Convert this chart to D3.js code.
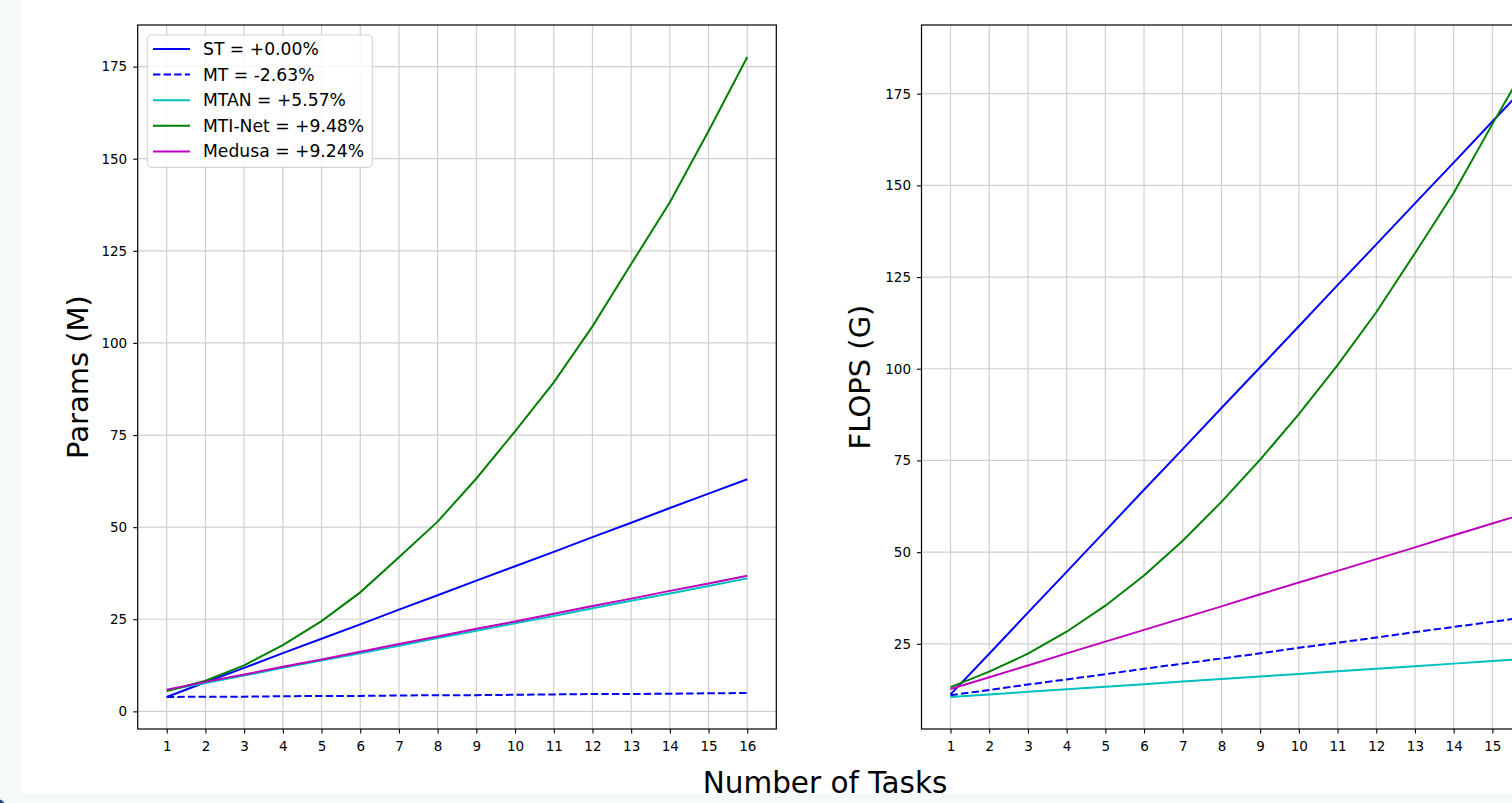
<!DOCTYPE html>
<html>
<head>
<meta charset="utf-8">
<script src="https://cdn.jsdelivr.net/npm/d3@7"></script>
<style>
  html, body { margin: 0; padding: 0; overflow: hidden; background: #f6f9f9; }
  svg { display: block; font-family: "DejaVu Sans", sans-serif; }
</style>
</head>
<body>
<svg id="chart" width="1512" height="803"></svg>
<script>
// ---------------- data ----------------
const tasks = [1, 2, 3, 4, 5, 6, 7, 8, 9, 10, 11, 12, 13, 14, 15, 16];

const paramsST     = [3.9, 7.9, 11.8, 15.8, 19.7, 23.6, 27.6, 31.5, 35.5, 39.4, 43.3, 47.3, 51.2, 55.2, 59.1, 63.0];
const paramsMT     = [3.9, 4.0, 4.0, 4.1, 4.2, 4.2, 4.3, 4.4, 4.4, 4.5, 4.6, 4.7, 4.7, 4.8, 4.9, 5.0];
const paramsMTAN   = [5.7, 7.7, 9.7, 11.8, 13.8, 15.8, 17.8, 19.9, 21.9, 23.9, 25.9, 28.0, 30.0, 32.0, 34.0, 36.1];
const paramsMTINet = [5.5, 8.3, 12.5, 18.0, 24.5, 32.3, 41.8, 51.5, 63.2, 76.0, 89.3, 104.5, 121.4, 138.2, 157.5, 177.6];
const paramsMedusa = [5.9, 8.0, 10.0, 12.1, 14.1, 16.2, 18.3, 20.3, 22.4, 24.4, 26.5, 28.6, 30.6, 32.7, 34.7, 36.8];

const flopsST      = [11.2, 22.3, 33.5, 44.6, 55.8, 67.0, 78.1, 89.3, 100.4, 111.6, 122.8, 133.9, 145.1, 156.2, 167.4, 178.6];
const flopsMT      = [11.0, 12.4, 13.9, 15.3, 16.7, 18.2, 19.6, 21.0, 22.4, 23.9, 25.3, 26.7, 28.2, 29.6, 31.0, 32.5];
const flopsMTAN    = [10.5, 11.2, 11.9, 12.6, 13.3, 14.0, 14.7, 15.4, 16.1, 16.8, 17.5, 18.2, 18.9, 19.6, 20.3, 21.0];
const flopsMTINet  = [13.2, 17.4, 22.3, 28.3, 35.4, 43.6, 53.1, 63.7, 75.2, 87.6, 101.0, 115.4, 131.5, 147.9, 166.7, 185.0];
const flopsMedusa  = [12.7, 15.9, 19.1, 22.4, 25.6, 28.8, 32.0, 35.2, 38.5, 41.7, 44.9, 48.1, 51.3, 54.6, 57.8, 61.0];

const seriesNames  = ["ST = +0.00%", "MT = -2.63%", "MTAN = +5.57%", "MTI-Net = +9.48%", "Medusa = +9.24%"];
const seriesColors = ["#0000ff", "#0000ff", "#00bfbf", "#008000", "#bf00bf"];
const seriesDashed = [false, true, false, false, false];

const yTickValues = [0, 25, 50, 75, 100, 125, 150, 175];
const yLabels = ["Params (M)", "FLOPS (G)"];
const xLabel = "Number of Tasks";

// ---------------- layout ----------------
const W = 1512;
const svg = d3.select("#chart");
svg.append("rect").attr("x", 21).attr("y", 0).attr("width", 1491).attr("height", 793).attr("fill", "#ffffff");
svg.append("circle").attr("cx", -3).attr("cy", 808).attr("r", 9).attr("fill", "#23457a");

const plotTop = 25, plotBottom = 729;
const panels = [
  { left: 137.7, right: 776.3, data: [paramsST, paramsMT, paramsMTAN, paramsMTINet, paramsMedusa], ylabel: yLabels[0], labelX: 88, legend: true },
  { left: 921.5, right: 1560.1, data: [flopsST, flopsMT, flopsMTAN, flopsMTINet, flopsMedusa], ylabel: yLabels[1], labelX: 870, legend: false }
];

panels.forEach(p => {
  const g = svg.append("g");
  const x = d3.scaleLinear().domain([0.25, 16.75]).range([p.left, p.right]);
  const all = p.data.flat();
  const mn = d3.min(all), mx = d3.max(all), pad = (mx - mn) * 0.05;
  const y = d3.scaleLinear().domain([mn - pad, mx + pad]).range([plotBottom, plotTop]);
  const yt = yTickValues.filter(v => v >= y.domain()[0] && v <= y.domain()[1]);

  const cid = "clip" + Math.round(p.left);
  svg.append("defs").append("clipPath").attr("id", cid)
    .append("rect").attr("x", p.left).attr("y", plotTop).attr("width", p.right - p.left).attr("height", plotBottom - plotTop);

  const grid = g.append("g").attr("clip-path", `url(#${cid})`);
  grid.selectAll(".gx").data(tasks).enter().append("line")
    .attr("x1", d => x(d)).attr("x2", d => x(d)).attr("y1", plotTop).attr("y2", plotBottom)
    .attr("stroke", "#cfcfcf").attr("stroke-width", 1.2);
  grid.selectAll(".gy").data(yt).enter().append("line")
    .attr("x1", p.left).attr("x2", p.right).attr("y1", d => y(d)).attr("y2", d => y(d))
    .attr("stroke", "#cfcfcf").attr("stroke-width", 1.2);

  const line = d3.line().x((d, i) => x(tasks[i])).y(d => y(d));
  const lines = g.append("g").attr("clip-path", `url(#${cid})`);
  p.data.forEach((arr, k) => {
    lines.append("path").attr("d", line(arr)).attr("fill", "none")
      .attr("stroke", seriesColors[k]).attr("stroke-width", 2)
      .attr("stroke-dasharray", seriesDashed[k] ? "7.4,3.2" : null);
  });

  // only ticks whose label fits inside the visible page (the reference crops the right panel)
  const visTicks = tasks.filter(t => x(t) + 10 <= W);
  const xa = g.append("g").attr("transform", `translate(0,${plotBottom})`)
    .call(d3.axisBottom(x).tickValues(visTicks).tickFormat(d3.format("d")).tickSize(4.5).tickPadding(8));
  const ya = g.append("g").attr("transform", `translate(${p.left},0)`)
    .call(d3.axisLeft(y).tickValues(yt).tickFormat(d3.format("d")).tickSize(4.5).tickPadding(6));
  [xa, ya].forEach(a => {
    a.select(".domain").remove();
    a.selectAll("line").attr("stroke", "#000").attr("stroke-width", 1.1);
    a.selectAll("text").attr("fill", "#000").style("font-size", "13.5px").style("font-family", "DejaVu Sans");
  });

  g.append("rect").attr("x", p.left).attr("y", plotTop).attr("width", p.right - p.left).attr("height", plotBottom - plotTop)
    .attr("fill", "none").attr("stroke", "#000").attr("stroke-width", 1.2);

  g.append("text").attr("transform", `translate(${p.labelX},${(plotTop + plotBottom) / 2}) rotate(-90)`)
    .attr("text-anchor", "middle").style("font-size", "29px").attr("fill", "#000").text(p.ylabel);

  if (p.legend) {
    const lg = g.append("g");
    lg.append("rect").attr("x", 147.3).attr("y", 35).attr("width", 225).attr("height", 132.3)
      .attr("rx", 4).attr("fill", "rgba(255,255,255,0.85)").attr("stroke", "#d6d6d6").attr("stroke-width", 1.2);
    seriesNames.forEach((nm, k) => {
      const yy = 49 + k * 25.6;
      lg.append("line").attr("x1", 153).attr("x2", 190).attr("y1", yy).attr("y2", yy)
        .attr("stroke", seriesColors[k]).attr("stroke-width", 2)
        .attr("stroke-dasharray", seriesDashed[k] ? "7.4,3.2" : null);
      lg.append("text").attr("x", 203).attr("y", yy + 6).style("font-size", "17.2px").attr("fill", "#000").text(nm);
    });
  }
});

svg.append("text").attr("x", 825).attr("y", 793).attr("text-anchor", "middle")
  .style("font-size", "29.5px").attr("fill", "#000").text(xLabel);
</script>
</body>
</html>
